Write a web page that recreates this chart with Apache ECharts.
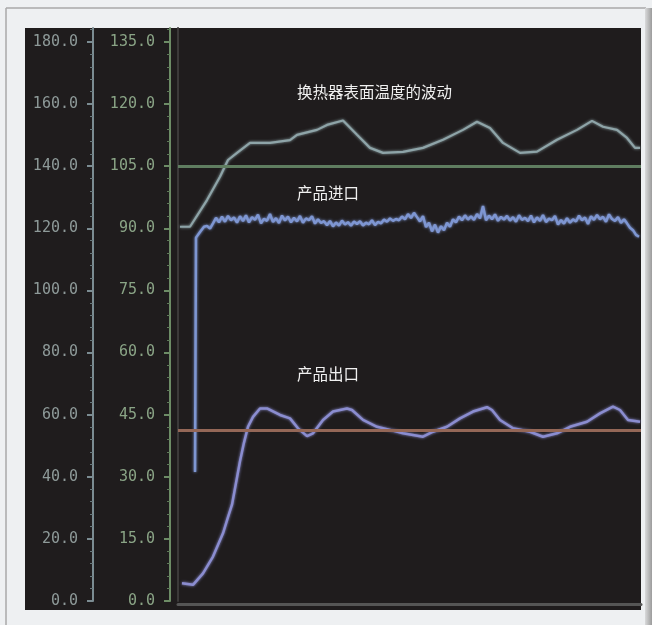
<!DOCTYPE html>
<html>
<head>
<meta charset="utf-8">
<title>换热器温度趋势</title>
<script src="https://cdn.jsdelivr.net/npm/echarts@6/dist/echarts.min.js"></script>
<style>
    html, body { margin: 0; padding: 0; background: #eef0f2; }
    #chart { width: 652px; height: 625px; }
</style>
</head>
<body>
<div id="chart"></div>
<script>
    // 左侧两根刻度轴（同一比例：右轴 = 左轴 * 0.75）
    const leftTicks = [0, 20, 40, 60, 80, 100, 120, 140, 160, 180];
    const rightTicks = [0, 15, 30, 45, 60, 75, 90, 105, 120, 135];
    const leftMax = 184.5;   // 轴线一直画到面板顶端
    const rightMax = 138.375;
    const timeMax = 463;

    // 上下限
    const upperLimit = 140;
    const lowerLimit = 55;

    // 换热器表面温度
    const surfaceT = [2, 12, 29, 42, 50, 59, 72, 92, 112, 119, 139, 149, 165, 179, 192, 205, 225, 245, 265,
        285, 299, 312, 325, 342, 359, 379, 399, 414, 425, 439, 449, 457, 462];
    const surfaceV = [120.5, 120.5, 129.1, 136.6, 142.0, 144.3, 147.5, 147.5, 148.4, 150.1, 151.7, 153.3, 154.7,
        150.1, 145.9, 144.3, 144.6, 145.9, 148.5, 151.7, 154.3, 152.3, 147.5, 144.3, 144.7, 148.5, 151.7,
        154.6, 152.7, 151.7, 149.1, 145.9, 145.9];

    // 产品出口
    const outletT = [4, 15, 25, 35, 45, 50, 54, 58, 62, 66, 70, 75, 82, 89, 102, 112, 120, 129, 135, 145, 155,
        169, 174, 185, 199, 212, 225, 245, 255, 269, 282, 295, 309, 314, 322, 335, 352, 365, 379, 392, 409,
        422, 435, 442, 450, 462];
    const outletV = [5.7, 5.2, 8.9, 14.3, 21.8, 27.0, 31.0, 38.0, 45.0, 51.0, 56.1, 59.3, 62.0, 62.0, 59.9,
        58.8, 55.6, 53.1, 54.0, 58.3, 61.0, 62.0, 61.5, 58.3, 56.1, 55.1, 54.0, 52.9, 54.5, 56.1, 58.8, 61.0,
        62.4, 61.5, 58.3, 55.6, 54.5, 52.9, 54.0, 56.1, 57.7, 60.4, 62.6, 61.5, 58.3, 57.7];

    // 产品进口：起始段 + 每 3 个时间单位一个采样点
    const inletHeadT = [17, 18, 22, 26];
    const inletHeadV = [41.5, 117.0, 118.8, 120.5];
    const inletStart = 29;
    const inletStep = 3;
    const inletV = [
        120.8, 119.9, 121.6, 123.4, 121.9, 123.8, 122.1, 124.0, 122.6, 123.5,
        121.8, 123.9, 122.3, 124.2, 121.9, 123.6, 122.7, 124.4, 121.6, 123.1,
        122.4, 124.6, 122.0, 123.3, 121.7, 124.1, 122.5, 123.8, 121.9, 123.4,
        122.2, 124.0, 121.8, 123.2, 122.6, 123.9, 121.5, 122.9, 121.7, 122.3,
        121.0, 122.4, 120.6, 121.9, 120.9, 122.5, 121.2, 122.0, 120.8, 122.2,
        121.4, 122.3, 120.9, 121.8, 121.3, 122.6, 121.0, 122.1, 121.6, 122.8,
        122.1, 123.2, 122.4, 123.0, 122.6, 123.8, 122.9, 124.6, 123.3, 125.0,
        123.6, 122.2, 123.9, 120.4, 121.8, 119.0, 121.2, 118.6, 120.7, 119.4,
        121.8, 120.5, 122.9, 121.9, 123.8, 122.6, 124.2, 122.8, 123.9, 122.7,
        124.6, 123.2, 127.2, 122.6, 124.1, 122.9, 124.5, 122.4, 123.7, 122.8,
        124.0, 122.5, 123.6, 122.1, 124.2, 122.7, 123.4, 122.3, 124.1, 121.9,
        123.5, 122.4, 124.3, 122.0, 123.1, 122.6, 124.0, 121.2, 122.7, 121.5,
        123.3, 121.8, 122.9, 122.2, 124.1, 122.6, 123.5, 121.4, 123.9, 122.7,
        124.3, 122.9, 123.7, 122.1, 124.5, 123.0, 122.4, 123.6, 121.7, 122.9,
        121.6, 120.2, 119.4, 117.9, 117.3
    ];

    const zip = (ts, vs) => ts.map((t, i) => [t, vs[i]]);
    const inletData = zip(inletHeadT, inletHeadV)
        .concat(inletV.map((v, i) => [inletStart + i * inletStep, v]));

    const labelFont = {fontFamily: 'DejaVu Sans Mono', fontSize: 15};
    const titleFont = {color: '#f0f0f0', fontSize: 15.5, fontWeight: 'normal', fontFamily: 'Noto Sans CJK SC'};

    // 屏幕截图里的曲线有点发虚
    const trace = (color, width) => ({color: color, width: width, shadowColor: color, shadowBlur: 3});

    const chart = echarts.init(document.getElementById('chart'));
    chart.setOption({
        animation: false,
        backgroundColor: '#eef0f2',
        graphic: [
            {type: 'line', z: -10, shape: {x1: 6, y1: 8, x2: 646, y2: 8}, style: {stroke: '#a9a9a9', lineWidth: 1.5}},
            {type: 'line', z: -10, shape: {x1: 6, y1: 8, x2: 6, y2: 625}, style: {stroke: '#a9a9a9', lineWidth: 1.5}},
            {
                type: 'rect', z: -10, shape: {x: 645, y: 8, width: 7, height: 617},
                style: {fill: new echarts.graphic.LinearGradient(0, 0, 1, 0, [
                    {offset: 0, color: '#d9dadb'}, {offset: 1, color: '#9c9c9c'}])}
            },
            {type: 'rect', z: -10, shape: {x: 25, y: 28, width: 616, height: 582}, style: {fill: '#1f1c1d'}}
        ],
        title: [
            {text: '换热器表面温度的波动', left: 297, top: 84, padding: 0, textStyle: titleFont},
            {text: '产品进口', left: 297, top: 185, padding: 0, textStyle: titleFont},
            {text: '产品出口', left: 297, top: 366, padding: 0, textStyle: titleFont}
        ],
        grid: {left: 178, right: 11, top: 28, bottom: 24},
        xAxis: {
            type: 'value', min: 0, max: timeMax, offset: 3,
            axisLine: {show: true, onZero: false, lineStyle: {color: '#555555', width: 3}},
            axisTick: {show: false}, axisLabel: {show: false}, splitLine: {show: false}
        },
        yAxis: [
            {
                type: 'value', position: 'left', offset: 85, min: 0, max: leftMax, interval: 20,
                axisLine: {show: true, onZero: false, lineStyle: {color: '#7b8c92', width: 2}},
                axisTick: {show: true, length: 6, customValues: leftTicks, lineStyle: {color: '#7b8c92', width: 2}},
                minorTick: {show: true, splitNumber: 5, length: 3, lineStyle: {color: '#66767a'}},
                axisLabel: Object.assign({
                    customValues: leftTicks, margin: 15, color: '#8e9a99',
                    formatter: v => v.toFixed(1)
                }, labelFont),
                splitLine: {show: false}
            },
            {
                type: 'value', position: 'left', offset: 8, min: 0, max: rightMax, interval: 15,
                axisLine: {show: true, onZero: false, lineStyle: {color: '#6d8c66', width: 2}},
                axisTick: {show: true, length: 6, customValues: rightTicks, lineStyle: {color: '#6d8c66', width: 2}},
                minorTick: {show: true, splitNumber: 5, length: 3, lineStyle: {color: '#5e7a58'}},
                axisLabel: Object.assign({
                    customValues: rightTicks, margin: 15, color: '#8aa486',
                    formatter: v => v.toFixed(1)
                }, labelFont),
                splitLine: {show: false}
            },
            {
                type: 'value', position: 'left', offset: 0, min: 0, max: leftMax,
                axisLine: {show: true, onZero: false, lineStyle: {color: '#3b3939', width: 2}},
                axisTick: {show: false}, axisLabel: {show: false}, splitLine: {show: false}
            }
        ],
        series: [
            {
                name: '换热器表面温度', type: 'line', yAxisIndex: 0, showSymbol: false,
                lineStyle: trace('#8ea4a8', 2.2),
                data: zip(surfaceT, surfaceV),
                markLine: {
                    silent: true, symbol: 'none', label: {show: false},
                    data: [
                        {yAxis: upperLimit, lineStyle: {color: '#5f7d60', width: 3, type: 'solid'}},
                        {yAxis: lowerLimit, lineStyle: {color: '#946757', width: 3, type: 'solid'}}
                    ]
                },
                z: 3
            },
            {
                name: '产品进口', type: 'line', yAxisIndex: 0, showSymbol: false,
                lineStyle: trace('#7e96d2', 2.5),
                data: inletData
            },
            {
                name: '产品出口', type: 'line', yAxisIndex: 0, showSymbol: false,
                lineStyle: trace('#8b8dd0', 2.5),
                data: zip(outletT, outletV),
                z: 4
            }
        ]
    });
</script>
</body>
</html>
